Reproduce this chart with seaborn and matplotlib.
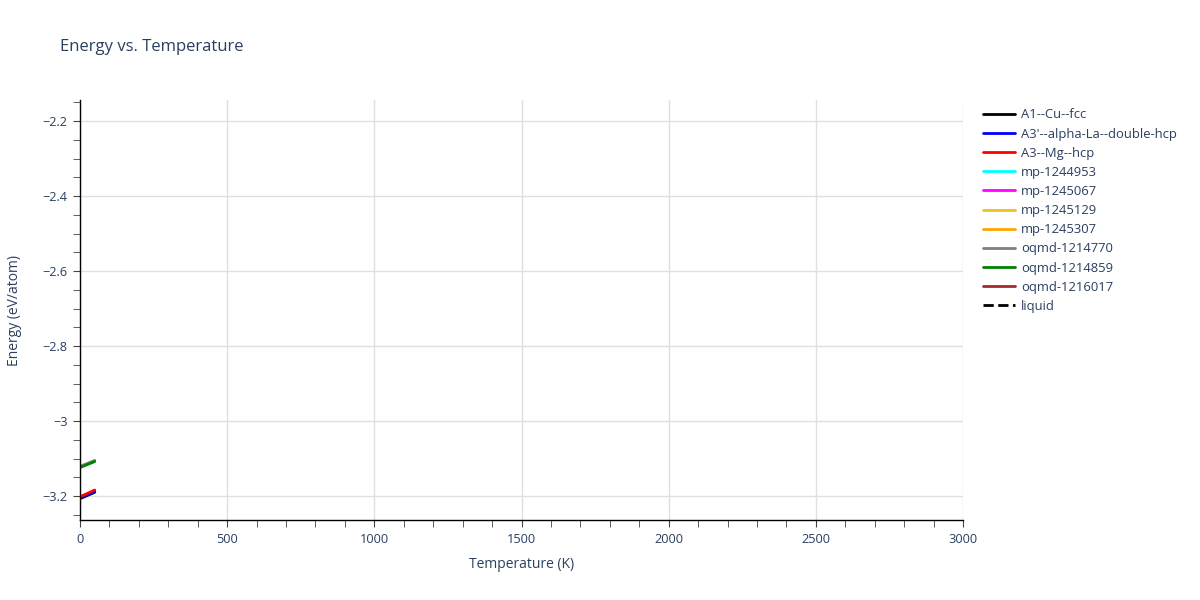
import matplotlib as mpl
mpl.use('agg')
import matplotlib.pyplot as plt
from matplotlib.lines import Line2D
from matplotlib.ticker import MultipleLocator, FuncFormatter
import pandas as pd
import seaborn as sns

# data (T in K, energy in eV/atom)
temps = [0, 10, 20, 30, 40, 50]
cu_fcc = [-3.207, -3.2036, -3.2002, -3.1968, -3.1934, -3.190]
la_dhcp = [-3.205, -3.2016, -3.1982, -3.1948, -3.1914, -3.188]
mg_hcp = [-3.202, -3.1984, -3.1948, -3.1912, -3.1876, -3.184]
oqmd_1214770 = [-3.121, -3.1178, -3.1146, -3.1114, -3.1082, -3.105]
oqmd_1214859 = [-3.124, -3.1208, -3.1176, -3.1144, -3.1112, -3.108]

names = ["A1--Cu--fcc", "A3'--alpha-La--double-hcp", "A3--Mg--hcp",
         "mp-1244953", "mp-1245067", "mp-1245129", "mp-1245307",
         "oqmd-1214770", "oqmd-1214859", "oqmd-1216017", "liquid"]
colors = ["black", "blue", "red", "cyan", "magenta", "#f0c020", "orange",
          "grey", "green", "brown", "black"]
series = {
    "A1--Cu--fcc": cu_fcc,
    "A3'--alpha-La--double-hcp": la_dhcp,
    "A3--Mg--hcp": mg_hcp,
    "oqmd-1214770": oqmd_1214770,
    "oqmd-1214859": oqmd_1214859,
}

rows = []
for name, vals in series.items():
    for t, e in zip(temps, vals):
        rows.append({'name': name, 'T': t, 'E': e})
df = pd.DataFrame(rows)

sns.set_style('white')
plt.rcParams['font.family'] = ['Open Sans', 'DejaVu Sans']
txt = '#2a3f5f'

fig = plt.figure(figsize=(12, 6), dpi=100)
ax = fig.add_axes([0.0667, 0.1333, 0.7358, 0.7])

palette = dict(zip(names, colors))
for name in names:
    if name not in series:
        continue
    sub = df[df['name'] == name]
    sns.lineplot(data=sub, x='T', y='E', color=palette[name], lw=2,
                 ax=ax, legend=False)

ax.set_xlim(0, 3000)
ax.set_ylim(-3.264, -2.144)
ax.xaxis.set_major_locator(MultipleLocator(500))
ax.xaxis.set_minor_locator(MultipleLocator(100))
ax.yaxis.set_major_locator(MultipleLocator(0.2))
ax.yaxis.set_minor_locator(MultipleLocator(0.05))
ax.yaxis.set_major_formatter(FuncFormatter(
    lambda v, p: ('%g' % round(v, 2)).replace('-', '\u2212')))
ax.grid(True, which='major', color='#e0e0e0', lw=1)
ax.set_axisbelow(True)
for s in ['top', 'right']:
    ax.spines[s].set_visible(False)
for s in ['left', 'bottom']:
    ax.spines[s].set_color('black')
    ax.spines[s].set_linewidth(1)
ax.tick_params(which='both', direction='out', color='#444444', labelcolor=txt,
               labelsize=9.2, left=True, bottom=True)
ax.tick_params(which='major', length=5, pad=4)
ax.tick_params(which='minor', length=5)

ax.set_xlabel("Temperature (K)", color=txt, fontsize=10, labelpad=8)
ax.set_ylabel("Energy (eV/atom)", color=txt, fontsize=10, labelpad=15)
fig.text(0.05, 0.922, "Energy vs. Temperature", color=txt, fontsize=12,
         va='center')

handles = [Line2D([], [], color=c, lw=2, ls='--' if n == 'liquid' else '-')
           for n, c in zip(names, colors)]
leg = fig.legend(handles, names, loc='upper left', bbox_to_anchor=(0.815, 0.828),
                 frameon=False, fontsize=9.4, handlelength=2.4, labelspacing=0.47,
                 handletextpad=0.5, borderaxespad=0)
for t in leg.get_texts():
    t.set_color(txt)

plt.savefig('out.png', dpi=100)
